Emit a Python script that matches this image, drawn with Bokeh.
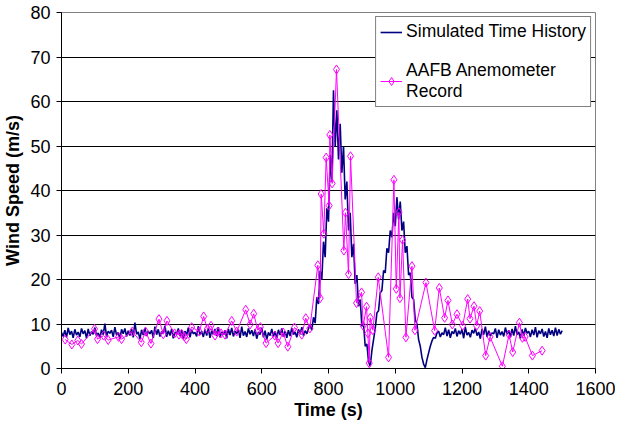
from bokeh.plotting import figure
from bokeh.models import FixedTicker, Range1d, Legend, LegendItem
from bokeh.embed import file_html
from bokeh.resources import INLINE

# ---- data ----
sim_step = 5  # seconds between simulated samples
sim_speed = [
    # 0-740 s
    8.1, 7.2, 8.6, 7.0, 9.1, 7.6, 8.4, 6.9, 8.8, 7.5,
    8.2, 7.1, 9.0, 7.8, 8.5, 6.8, 8.9, 7.4, 8.3, 7.7,
    9.2, 7.3, 8.0, 6.9, 8.7, 7.6, 10.1, 7.2, 8.4, 7.9,
    8.6, 7.1, 9.3, 7.5, 8.1, 6.7, 8.8, 7.8, 9.0, 7.2,
    8.5, 7.4, 8.9, 7.0, 10.3, 7.7, 8.2, 6.6, 8.7, 7.5,
    9.1, 7.3, 8.4, 7.8, 8.6, 6.9, 9.4, 7.6, 8.8, 7.2,
    8.3, 7.9, 9.6, 7.1, 8.5, 7.4, 8.9, 6.8, 8.2, 7.7,
    9.0, 7.3, 8.6, 6.6, 8.4, 7.5, 9.2, 7.0, 8.7, 7.8,
    8.1, 7.2, 9.5, 7.6, 8.3, 7.1, 8.8, 7.4, 9.0, 6.9,
    8.5, 7.7, 8.9, 7.3, 9.3, 7.0, 8.2, 7.6, 8.6, 6.8,
    8.9, 7.5, 9.1, 7.2, 8.4, 7.8, 8.7, 6.9, 9.4, 7.4,
    8.3, 7.1, 9.0, 7.7, 8.6, 7.3, 8.8, 6.7, 8.2, 7.6,
    9.2, 7.0, 8.5, 6.5, 8.1, 7.4, 8.9, 7.2, 8.3, 6.8,
    8.7, 7.5, 9.0, 7.1, 8.4, 6.9, 8.6, 7.3, 9.1, 7.6,
    8.2, 7.0, 8.8, 7.7, 9.3, 7.4, 8.5, 7.8, 9.0,
    # 745-1125 s
    9.8, 8.6, 11.5, 10.2, 16.0, 14.5, 22.0, 20.0, 28.5, 25.0,
    36.0, 33.0, 48.0, 42.0, 62.5, 50.0, 58.0, 47.0, 55.0, 44.0,
    50.0, 38.0, 42.0, 31.0, 35.0, 25.0, 28.0, 19.0, 21.0, 14.0,
    15.5, 9.5, 10.0, 5.0, 5.5, 1.5, 0.5, 4.0, 6.5, 9.0,
    12.5, 13.0, 17.0, 17.5, 22.0, 21.5, 27.0, 26.0, 31.0, 29.5,
    35.0, 32.0, 38.5, 33.5, 37.5, 31.0, 33.0, 26.0, 27.5, 21.0,
    21.5, 16.0, 15.5, 11.0, 10.0, 6.5, 5.0, 2.5, 1.0, 0.2,
    2.0, 3.5, 5.0, 6.2, 7.0, 6.8, 8.0,
    # 1130-1500 s
    8.4, 7.1, 8.0, 7.6, 9.2, 7.3, 8.7, 6.9, 8.3, 7.8,
    9.0, 7.2, 8.5, 7.7, 8.8, 6.8, 9.3, 7.5, 8.1, 7.0,
    8.6, 7.9, 9.1, 7.4, 8.2, 6.7, 8.9, 7.6, 9.4, 7.1,
    8.5, 7.3, 8.0, 7.8, 9.0, 6.9, 8.7, 7.5, 8.3, 7.2,
    9.2, 7.7, 8.6, 7.0, 8.9, 7.4, 9.5, 7.6, 8.2, 6.8,
    8.8, 7.3, 9.1, 7.9, 8.4, 7.1, 8.7, 7.5, 9.3, 7.0,
    8.5, 7.8, 8.9, 7.2, 8.3, 6.9, 9.0, 7.6, 8.6, 7.3,
    9.2, 7.4, 8.8, 7.7, 8.5,
]
sim_time = [sim_step * i for i in range(len(sim_speed))]

anem_time = [11, 31, 49, 60, 99, 108, 126, 140, 171, 180,
             212, 239, 252, 268, 292, 305, 316, 339, 352, 360,
             368, 374, 390, 413, 426, 437, 448, 460, 468, 478,
             490, 510, 525, 552, 565, 576, 588, 596, 613, 639,
             649, 664, 678, 698, 720, 732, 744, 768, 775, 778,
             786, 793, 802, 804, 811, 824, 846, 851, 860, 866,
             884, 899, 904, 914, 918, 922, 925, 933, 949, 980,
             996, 1003, 1011, 1014, 1022, 1032, 1050, 1059, 1092, 1118,
             1132, 1148, 1158, 1171, 1185, 1202, 1217, 1224, 1236, 1244,
             1253, 1271, 1284, 1321, 1341, 1352, 1372, 1381, 1389, 1411,
             1440]
anem_speed = [6.5, 5.4, 6.3, 5.5, 8.9, 6.6, 7.4, 6.4, 7.1, 6.6,
              8.3, 5.9, 8.3, 5.6, 11.1, 7.7, 10.7, 7.9, 7.6, 7.8,
              7.2, 6.6, 9.3, 8.3, 11.7, 8.9, 9.6, 7.4, 8.3, 7.9,
              7.6, 10.7, 8.3, 13.2, 9.9, 12.3, 8.6, 9.3, 5.7, 7.4,
              5.7, 8.1, 4.9, 9.2, 7.6, 11.3, 9.0, 23.2, 15.8, 39.2,
              30.3, 47.4, 36.6, 52.5, 41.6, 67.2, 26.5, 35.0, 21.2, 47.7,
              14.7, 17.1, 9.6, 13.9, 7.9, 1.2, 11.4, 8.6, 20.5, 2.5,
              42.4, 17.9, 35.1, 15.8, 28.9, 7.0, 23.0, 8.6, 19.3, 8.5,
              18.1, 11.4, 15.3, 9.9, 12.2, 9.6, 15.6, 11.2, 14.0, 9.6,
              12.9, 2.9, 7.1, 0.5, 7.6, 3.7, 10.3, 6.9, 7.1, 2.9,
              4.0]

x_ticks = [0, 200, 400, 600, 800, 1000, 1200, 1400, 1600]
y_ticks = [0, 10, 20, 30, 40, 50, 60, 70, 80]
x_label = "Time (s)"
y_label = "Wind Speed (m/s)"
sim_name = "Simulated Time History"
anem_name = "AAFB Anemometer\nRecord"

FONT = "Liberation Sans"

p = figure(width=615, height=422, output_backend="svg", toolbar_location=None,
           x_range=Range1d(0, 1600), y_range=Range1d(0, 80),
           min_border_left=54, min_border_right=20, min_border_top=12,
           min_border_bottom=50)

p.background_fill_color = "white"
p.border_fill_color = "white"
p.outline_line_color = "#808080"
p.outline_line_width = 1

p.xgrid.visible = False
p.ygrid.ticker = FixedTicker(ticks=y_ticks[1:-1])
p.ygrid.grid_line_color = "black"
p.ygrid.grid_line_width = 1

for ax, ticks in ((p.xaxis[0], x_ticks), (p.yaxis[0], y_ticks)):
    ax.ticker = FixedTicker(ticks=ticks)
    ax.axis_line_color = "black"
    ax.axis_line_width = 1
    ax.major_tick_line_color = "black"
    ax.major_tick_out = 5
    ax.major_tick_in = 0
    ax.minor_tick_line_color = None
    ax.major_label_text_font = FONT
    ax.major_label_text_font_size = "18px"
    ax.major_label_text_color = "black"
    ax.axis_label_text_font = FONT
    ax.axis_label_text_font_size = "18px"
    ax.axis_label_text_font_style = "bold"
    ax.axis_label_text_color = "black"

p.xaxis.axis_label = x_label
p.yaxis.axis_label = y_label
p.xaxis.major_label_standoff = 8
p.xaxis.axis_label_standoff = 2
p.yaxis.major_label_standoff = 6
p.yaxis.axis_label_standoff = 4

sim = p.line(sim_time, sim_speed, line_color="#000080", line_width=1.6)
an_line = p.line(anem_time, anem_speed, line_color="#FF00FF", line_width=1)
an_pts = p.scatter(anem_time, anem_speed, marker="diamond", size=9,
                   line_color="#FF00FF", line_width=1, fill_color=None)

legend = Legend(items=[LegendItem(label=sim_name, renderers=[sim]),
                       LegendItem(label=anem_name, renderers=[an_line, an_pts])],
                location="top_right")
legend.border_line_color = "black"
legend.border_line_width = 1
legend.background_fill_color = "white"
legend.background_fill_alpha = 1
legend.label_text_font = FONT
legend.label_text_font_size = "17.5px"
legend.label_text_color = "black"
legend.glyph_width = 22
legend.label_standoff = 4
legend.padding = 4
legend.spacing = 18
legend.margin = 4
legend.label_height = 20
p.add_layout(legend)

open("out.html", "w").write(file_html(p, INLINE))
